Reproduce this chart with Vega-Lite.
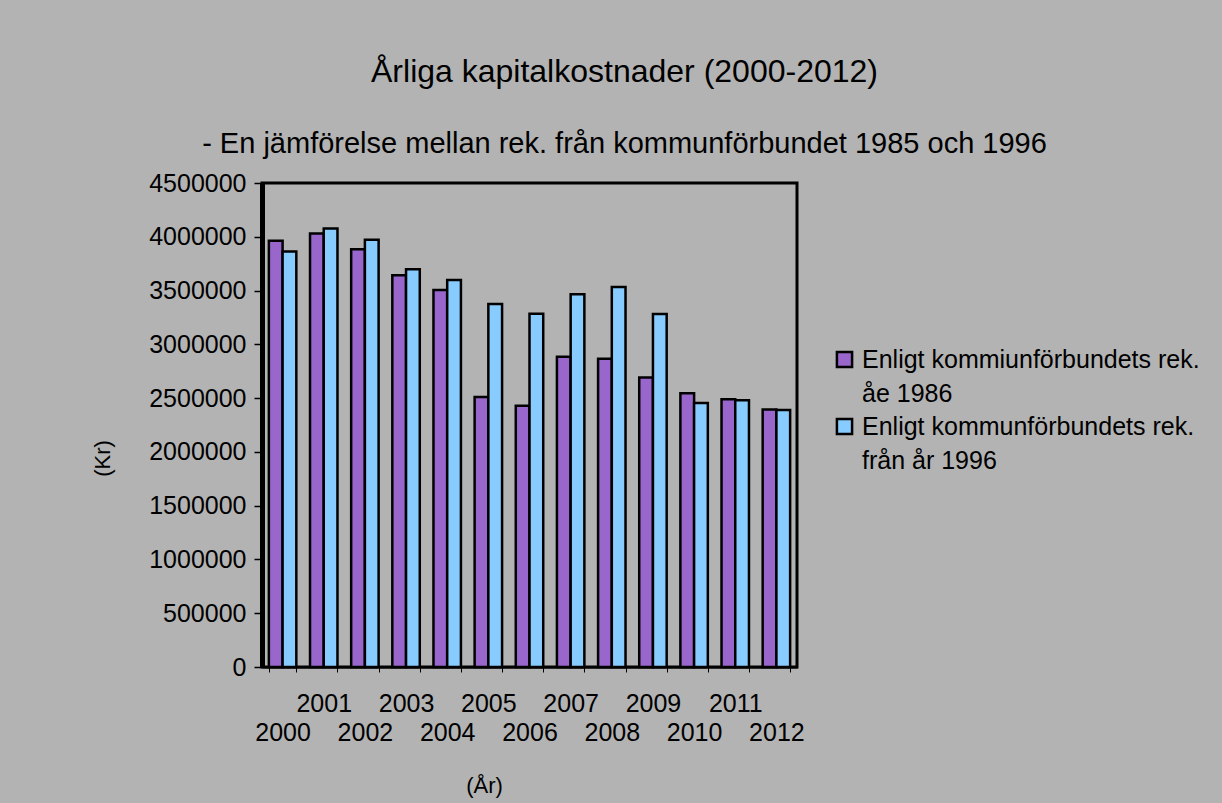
{
  "$schema": "https://vega.github.io/schema/vega-lite/v6.json",
  "width": 535,
  "height": 484,
  "autosize": {"type": "none"},
  "padding": {"left": 262, "top": 183, "right": 425, "bottom": 136},
  "background": "#B3B3B3",
  "title": {
    "text": "Årliga kapitalkostnader (2000-2012)",
    "subtitle": "- En jämförelse mellan rek. från kommunförbundet 1985 och 1996",
    "anchor": "middle",
    "frame": "group",
    "dx": 95,
    "fontSize": 32,
    "fontWeight": "normal",
    "subtitleFontSize": 29,
    "subtitleColor": "black",
    "subtitlePadding": 41,
    "offset": 11,
    "color": "black",
    "font": "Liberation Sans",
    "subtitleFont": "Liberation Sans"
  },
  "config": {
    "font": "Liberation Sans",
    "view": {"stroke": "black", "strokeWidth": 3},
    "axis": {"labelColor": "black", "titleColor": "black", "domainColor": "black", "tickColor": "black", "titleFontWeight": "normal"}
  },
  "data": {
    "values": [
      {"year": 2000, "series": "Enligt kommiunförbundets rek. åe 1986", "value": 3962000},
      {"year": 2000, "series": "Enligt kommunförbundets rek. från år 1996", "value": 3863000},
      {"year": 2001, "series": "Enligt kommiunförbundets rek. åe 1986", "value": 4031000},
      {"year": 2001, "series": "Enligt kommunförbundets rek. från år 1996", "value": 4078000},
      {"year": 2002, "series": "Enligt kommiunförbundets rek. åe 1986", "value": 3885000},
      {"year": 2002, "series": "Enligt kommunförbundets rek. från år 1996", "value": 3972000},
      {"year": 2003, "series": "Enligt kommiunförbundets rek. åe 1986", "value": 3642000},
      {"year": 2003, "series": "Enligt kommunförbundets rek. från år 1996", "value": 3698000},
      {"year": 2004, "series": "Enligt kommiunförbundets rek. åe 1986", "value": 3505000},
      {"year": 2004, "series": "Enligt kommunförbundets rek. från år 1996", "value": 3599000},
      {"year": 2005, "series": "Enligt kommiunförbundets rek. åe 1986", "value": 2511000},
      {"year": 2005, "series": "Enligt kommunförbundets rek. från år 1996", "value": 3375000},
      {"year": 2006, "series": "Enligt kommiunförbundets rek. åe 1986", "value": 2430000},
      {"year": 2006, "series": "Enligt kommunförbundets rek. från år 1996", "value": 3285000},
      {"year": 2007, "series": "Enligt kommiunförbundets rek. åe 1986", "value": 2884000},
      {"year": 2007, "series": "Enligt kommunförbundets rek. från år 1996", "value": 3465000},
      {"year": 2008, "series": "Enligt kommiunförbundets rek. åe 1986", "value": 2866000},
      {"year": 2008, "series": "Enligt kommunförbundets rek. från år 1996", "value": 3533000},
      {"year": 2009, "series": "Enligt kommiunförbundets rek. åe 1986", "value": 2691000},
      {"year": 2009, "series": "Enligt kommunförbundets rek. från år 1996", "value": 3282000},
      {"year": 2010, "series": "Enligt kommiunförbundets rek. åe 1986", "value": 2545000},
      {"year": 2010, "series": "Enligt kommunförbundets rek. från år 1996", "value": 2455000},
      {"year": 2011, "series": "Enligt kommiunförbundets rek. åe 1986", "value": 2489000},
      {"year": 2011, "series": "Enligt kommunförbundets rek. från år 1996", "value": 2480000},
      {"year": 2012, "series": "Enligt kommiunförbundets rek. åe 1986", "value": 2393000},
      {"year": 2012, "series": "Enligt kommunförbundets rek. från år 1996", "value": 2390000}
    ]
  },
  "mark": {"type": "bar", "stroke": "black", "strokeWidth": 2.5},
  "encoding": {
    "x": {
      "field": "year",
      "type": "ordinal",
      "scale": {"paddingInner": 0.333, "paddingOuter": 0.167},
      "axis": {
        "title": "(År)",
        "titleFontSize": 22,
        "titleX": 222,
        "titleY": 118,
        "titleBaseline": "middle",
        "labelAngle": 0,
        "labelFontSize": 25,
        "labelLineHeight": 29,
        "labelBaseline": "top",
        "labelPadding": 19,
        "labelExpr": "datum.value % 2 == 1 ? [datum.label, ''] : ['', datum.label]",
        "tickBand": "extent",
        "tickSize": 5,
        "tickWidth": 1,
        "domainWidth": 2
      }
    },
    "xOffset": {
      "field": "series",
      "sort": ["Enligt kommiunförbundets rek. åe 1986", "Enligt kommunförbundets rek. från år 1996"]
    },
    "y": {
      "field": "value",
      "type": "quantitative",
      "scale": {"domain": [0, 4500000], "nice": false},
      "axis": {
        "title": "(Kr)",
        "titleFontSize": 22,
        "titleX": -160,
        "titleY": 275,
        "titleBaseline": "middle",
        "values": [0, 500000, 1000000, 1500000, 2000000, 2500000, 3000000, 3500000, 4000000, 4500000],
        "format": "d",
        "labelFontSize": 25,
        "labelPadding": 8,
        "tickSize": 8,
        "tickWidth": 1.5,
        "domainWidth": 5,
        "grid": false
      }
    },
    "color": {
      "field": "series",
      "type": "nominal",
      "scale": {
        "domain": ["Enligt kommiunförbundets rek. åe 1986", "Enligt kommunförbundets rek. från år 1996"],
        "range": ["#9966CC", "#88CCFF"]
      },
      "legend": {
        "title": null,
        "orient": "none",
        "legendX": 570,
        "legendY": 164,
        "padding": 0,
        "symbolType": "square",
        "symbolSize": 230,
        "symbolStrokeColor": "black",
        "symbolStrokeWidth": 2.5,
        "symbolOpacity": 1,
        "labelFontSize": 25,
        "labelColor": "black",
        "labelLimit": 500,
        "labelOffset": 5,
        "rowPadding": 6,
        "labelExpr": "[slice(datum.label, 0, indexof(datum.label, 'rek.') + 4), slice(datum.label, indexof(datum.label, 'rek.') + 5)]",
        "encode": {"labels": {"update": {"lineHeight": {"value": 34}}}}
      }
    }
  }
}
